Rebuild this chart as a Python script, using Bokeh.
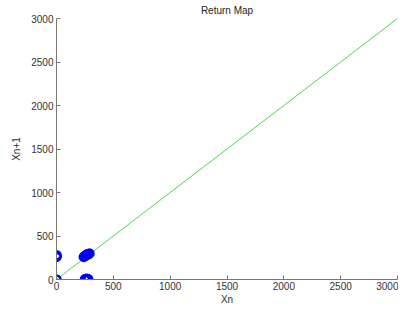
from bokeh.plotting import figure
from bokeh.embed import file_html
from bokeh.resources import INLINE
from bokeh.models import FixedTicker, Range1d

title = "Return Map"
x_label = "Xn"
y_label = "Xn+1"
ticks = [0, 500, 1000, 1500, 2000, 2500, 3000]
diag_x = [0, 3000]
diag_y = [0, 3000]
xn = [0, 0, 0, 0, 240, 250, 260, 270, 280, 290, 250, 255, 265, 275, 280]
xn1 = [0, 260, 270, 280, 260, 270, 280, 290, 290, 300, 0, 5, 10, 5, 0]

p = figure(width=398, height=307, output_backend="svg", toolbar_location=None,
           x_range=Range1d(0, 3000), y_range=Range1d(0, 3000),
           min_border_left=56, min_border_right=1, min_border_top=0, min_border_bottom=0)
p.title.text = title
p.title.align = "center"
p.title.text_font = "Liberation Sans"
p.title.text_font_size = "10px"
p.title.text_font_style = "normal"
p.title.text_color = "#222222"
p.title.standoff = 5
p.outline_line_color = None
p.xgrid.visible = False
p.ygrid.visible = False
p.background_fill_color = "white"

p.line(diag_x, diag_y, line_color="#44dd44", line_width=1)
p.scatter(xn, xn1, marker="circle", size=8, fill_color=None, line_color="#0000ff", line_width=2.5)

for ax, lab in ((p.xaxis, x_label), (p.yaxis, y_label)):
    ax.ticker = FixedTicker(ticks=ticks)
    ax.minor_tick_line_color = None
    ax.major_tick_in = 4
    ax.major_tick_out = 0
    ax.axis_line_color = "#777777"
    ax.major_tick_line_color = "#777777"
    ax.major_label_text_font = "Liberation Sans"
    ax.major_label_text_font_size = "10px"
    ax.major_label_text_color = "#333333"
    ax.axis_label = lab
    ax.axis_label_text_font = "Liberation Sans"
    ax.axis_label_text_font_size = "10px"
    ax.axis_label_text_font_style = "normal"
    ax.axis_label_text_color = "#333333"
    ax.axis_label_standoff = 1
    ax.major_label_standoff = 2
p.yaxis.axis_label_standoff = 6
p.yaxis.major_label_standoff = 3

open("out.html", "w").write(file_html(p, INLINE))
